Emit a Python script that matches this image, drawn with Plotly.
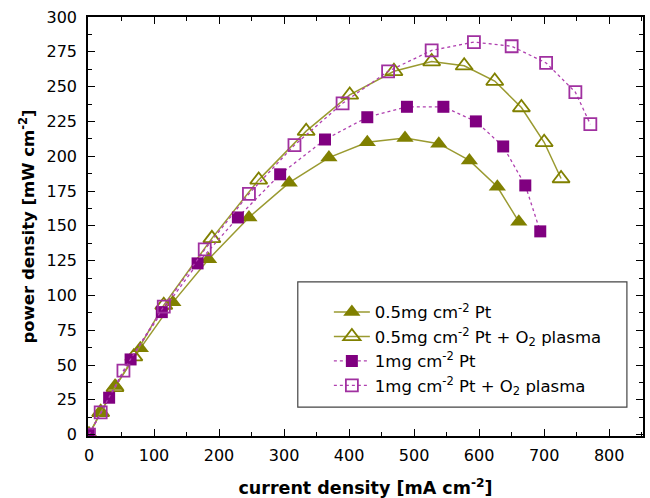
import plotly.graph_objects as go

x_a = [0, 18, 41, 79, 129, 184, 246, 308, 369, 428, 486, 538, 585, 628, 661]
y_a = [0, 16, 35, 62, 95, 126, 156, 181, 199, 210, 213, 209, 197, 178, 153]

x_b = [0, 18, 40, 69, 115, 189, 261, 334, 401, 469, 527, 577, 624, 665, 700, 726]
y_b = [0, 16, 34, 56, 93, 141, 183, 218, 244, 261, 268, 265, 254, 235, 210, 184]

x_c = [0, 31, 64, 112, 167, 229, 294, 363, 428, 489, 545, 595, 637, 671, 694]
y_c = [0, 26.5, 54, 88, 123, 156, 187, 212, 228, 235.5, 235.5, 225, 207, 179, 146]

x_d = [0, 18, 53, 115, 178, 246, 316, 390, 460, 527, 592, 650, 703, 748, 771]
y_d = [0, 16, 46, 92, 133, 173, 208, 238, 261, 276, 282, 279, 267, 246, 223]

names = ["0.5mg cm<sup>-2</sup> Pt",
         "0.5mg cm<sup>-2</sup> Pt + O<sub>2</sub> plasma",
         "1mg cm<sup>-2</sup> Pt",
         "1mg cm<sup>-2</sup> Pt + O<sub>2</sub> plasma"]

fig = go.Figure()
fig.add_trace(go.Scatter(x=x_a, y=y_a, name=names[0], mode="lines+markers", legendgroup="a",
                         line=dict(color="#9a9a30", width=1.5),
                         marker=dict(symbol="triangle-up", size=15, color="#808000")))
fig.add_trace(go.Scatter(x=x_b, y=y_b, name=names[1], mode="lines+markers", legendgroup="b",
                         line=dict(color="#9a9a30", width=1.5),
                         marker=dict(symbol="triangle-up-open", size=15, color="#808000",
                                     line=dict(width=1.8))))
fig.add_trace(go.Scatter(x=x_c, y=y_c, name=names[2], mode="lines+markers", legendgroup="c",
                         line=dict(color="#b040b0", width=1.3, dash="dot"),
                         marker=dict(symbol="square", size=12, color="#800080")))
fig.add_trace(go.Scatter(x=x_d, y=y_d, name=names[3], mode="lines+markers", legendgroup="d",
                         line=dict(color="#b040b0", width=1.3, dash="dot"),
                         marker=dict(symbol="square-open", size=12, color="#a030a0",
                                     line=dict(width=1.8))))

axis_common = dict(showline=True, linecolor="black", linewidth=1.5, mirror="allticks",
                   ticks="inside", ticklen=7, tickwidth=1.3, tickcolor="black",
                   showgrid=False, zeroline=False, automargin=False,
                   tickfont=dict(family="DejaVu Sans", size=16, color="black"))

fig.update_xaxes(range=[-1.5, 852], dtick=100, tick0=0, ticklabelstandoff=4,
                 minor=dict(dtick=50, ticks="inside", ticklen=4, tickcolor="black", tickwidth=1),
                 title=dict(text="<b>current density [mA cm<sup>-2</sup>]</b>",
                            font=dict(family="DejaVu Sans", size=17.5, color="black"), standoff=18),
                 **axis_common)
fig.update_yaxes(range=[-1, 300], dtick=25, tick0=0, ticklabelstandoff=6,
                 minor=dict(dtick=12.5, ticks="inside", ticklen=4, tickcolor="black", tickwidth=1),
                 title=dict(text="<b>power density [mW cm<sup>-2</sup>]</b>",
                            font=dict(family="DejaVu Sans", size=16.5, color="black"), standoff=8),
                 **axis_common)

fig.add_shape(type="rect", xref="paper", yref="paper",
              x0=0.378, x1=0.971, y0=0.069, y1=0.368,
              line=dict(color="#444", width=1.2), fillcolor="rgba(0,0,0,0)")

fig.update_layout(
    width=650, height=498,
    margin=dict(l=88, r=7, t=17, b=62),
    plot_bgcolor="white", paper_bgcolor="white",
    showlegend=True,
    legend=dict(x=0.434, y=0.337, xanchor="left", yanchor="top",
                borderwidth=0, bgcolor="rgba(0,0,0,0)",
                font=dict(family="DejaVu Sans", size=16.5, color="black"),
                tracegroupgap=0, itemwidth=36),
)

fig.write_html("out.html")
